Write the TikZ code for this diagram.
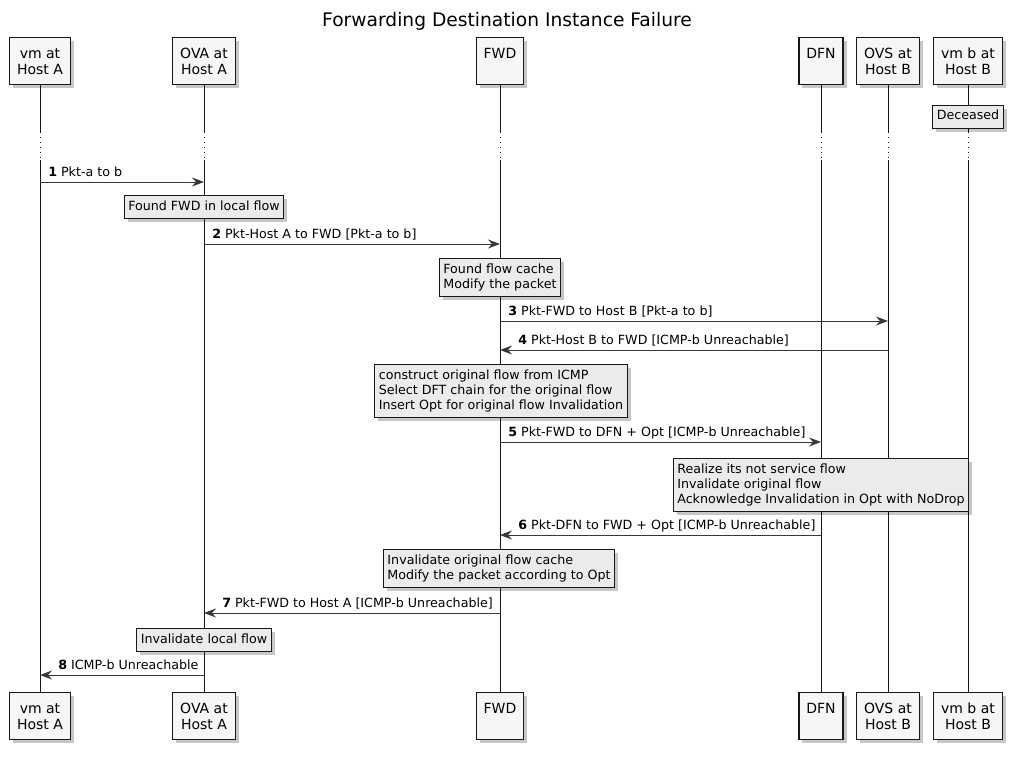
\documentclass[tikz,border=0pt]{standalone}
\usepackage{fontspec}
\setmainfont{DejaVu Sans}
\usetikzlibrary{arrows.meta,shadows}
\definecolor{partfill}{HTML}{F6F6F6}
\definecolor{notefill}{HTML}{EBEBEB}
\definecolor{linecol}{HTML}{181818}
\definecolor{arrowcol}{HTML}{383838}
\newcommand{\topline}{\rule{0pt}{10.2pt}}
\newcommand{\botline}{\rule[-1.9pt]{0pt}{1.9pt}}
\tikzset{
  shadowed/.style={drop shadow={shadow xshift=2.6pt, shadow yshift=-2.6pt, opacity=0.22, fill=black}},
  participant/.style={draw=linecol, line width=1pt, fill=partfill, align=center,
    inner xsep=5.6pt, inner ysep=5.6pt, minimum height=35.25pt,
    font=\fontsize{10.5}{12}\selectfont, shadowed},
  notebox/.style={draw=linecol, line width=0.75pt, fill=notefill, align=left,
    inner xsep=3pt, inner ysep=3pt, font=\fontsize{9.5}{11.25}\selectfont, shadowed},
  lifeline/.style={draw=linecol, line width=0.75pt},
  lifedots/.style={draw=linecol, line width=0.75pt, dash pattern=on 0.75pt off 3pt},
  msg/.style={draw=arrowcol, line width=0.75pt, -{Stealth[length=9pt,width=6.75pt,inset=3pt]}},
  msglabel/.style={anchor=base west, inner sep=0pt, font=\fontsize{9.5}{11.25}\selectfont},
  titlelabel/.style={font=\fontsize{14}{16}\selectfont, inner sep=0pt}
}
\begin{document}
\begin{tikzpicture}[x=0.75pt,y=-0.75pt]
\useasboundingbox (0,0) rectangle (1019,756);
\node[titlelabel] (title) at (507,21) {Forwarding Destination Instance Failure};

% participants top
\node[participant, anchor=north] (vmT)  at (40,37)  {\topline vm at\\Host A\botline};
\node[participant, anchor=north] (ovaT) at (204,37) {\topline OVA at\\Host A\botline};
\node[participant, anchor=north] (fwdT) at (500,37) {\topline FWD\\\botline};
\node[participant, anchor=north] (dfnT) at (821,37) {\topline DFN\\\botline};
\node[participant, anchor=north] (ovsT) at (888,37) {\topline OVS at\\Host B\botline};
\node[participant, anchor=north] (vmbT) at (968,37) {\topline vm b at\\Host B\botline};
% participants bottom
\node[participant, anchor=north] (vmB)  at (40,692)  {\topline vm at\\Host A\botline};
\node[participant, anchor=north] (ovaB) at (204,692) {\topline OVA at\\Host A\botline};
\node[participant, anchor=north] (fwdB) at (500,692) {\topline FWD\\\botline};
\node[participant, anchor=north] (dfnB) at (821,692) {\topline DFN\\\botline};
\node[participant, anchor=north] (ovsB) at (888,692) {\topline OVS at\\Host B\botline};
\node[participant, anchor=north] (vmbB) at (968,692) {\topline vm b at\\Host B\botline};

% lifelines
\foreach \t/\b in {vmT/vmB, ovaT/ovaB, fwdT/fwdB, dfnT/dfnB, ovsT/ovsB, vmbT/vmbB}{
  \draw[lifeline] (\t.south) -- (\t.south |- 0,132);
  \draw[lifedots] (\t.south |- 0,132) -- (\t.south |- 0,160);
  \draw[lifeline] (\t.south |- 0,160) -- (\b.north);
}

% notes
\node[notebox, anchor=north] (n0) at (968,105) {\strut Deceased};
\node[notebox, anchor=north] (n1) at (204,195) {\strut Found FWD in local flow};
\node[notebox, anchor=north] (n2) at (500,258) {\strut Found flow cache\\\strut Modify the packet};
\node[notebox, anchor=north] (n3) at (501,364) {\strut construct original flow from ICMP\\\strut Select DFT chain for the original flow\\\strut Insert Opt for original flow Invalidation};
\node[notebox, anchor=north] (n4) at (821,458) {\strut Realize its not service flow\\\strut Invalidate original flow\\\strut Acknowledge Invalidation in Opt with NoDrop};
\node[notebox, anchor=north] (n5) at (499,549) {\strut Invalidate original flow cache\\\strut Modify the packet according to Opt};
\node[notebox, anchor=north] (n6) at (204,628) {\strut Invalidate local flow};

% messages
\draw[msg] (vmT |- 0,182) -- (ovaT |- 0,182);
\node[msglabel] (l1) at (48,176) {\textbf{1} Pkt-a to b};
\draw[msg] (ovaT |- 0,244) -- (fwdT |- 0,244);
\node[msglabel] (l2) at (212,238) {\textbf{2} Pkt-Host A to FWD [Pkt-a to b]};
\draw[msg] (fwdT |- 0,321) -- (ovsT |- 0,321);
\node[msglabel] (l3) at (508,315) {\textbf{3} Pkt-FWD to Host B [Pkt-a to b]};
\draw[msg] (ovsT |- 0,350) -- (fwdT |- 0,350);
\node[msglabel] (l4) at (518,344) {\textbf{4} Pkt-Host B to FWD [ICMP-b Unreachable]};
\draw[msg] (fwdT |- 0,442) -- (dfnT |- 0,442);
\node[msglabel] (l5) at (508,436) {\textbf{5} Pkt-FWD to DFN + Opt [ICMP-b Unreachable]};
\draw[msg] (dfnT |- 0,535) -- (fwdT |- 0,535);
\node[msglabel] (l6) at (518,529) {\textbf{6} Pkt-DFN to FWD + Opt [ICMP-b Unreachable]};
\draw[msg] (fwdT |- 0,613) -- (ovaT |- 0,613);
\node[msglabel] (l7) at (222,607) {\textbf{7} Pkt-FWD to Host A [ICMP-b Unreachable]};
\draw[msg] (ovaT |- 0,675) -- (vmT |- 0,675);
\node[msglabel] (l8) at (58,669) {\textbf{8} ICMP-b Unreachable};
\end{tikzpicture}
\end{document}
